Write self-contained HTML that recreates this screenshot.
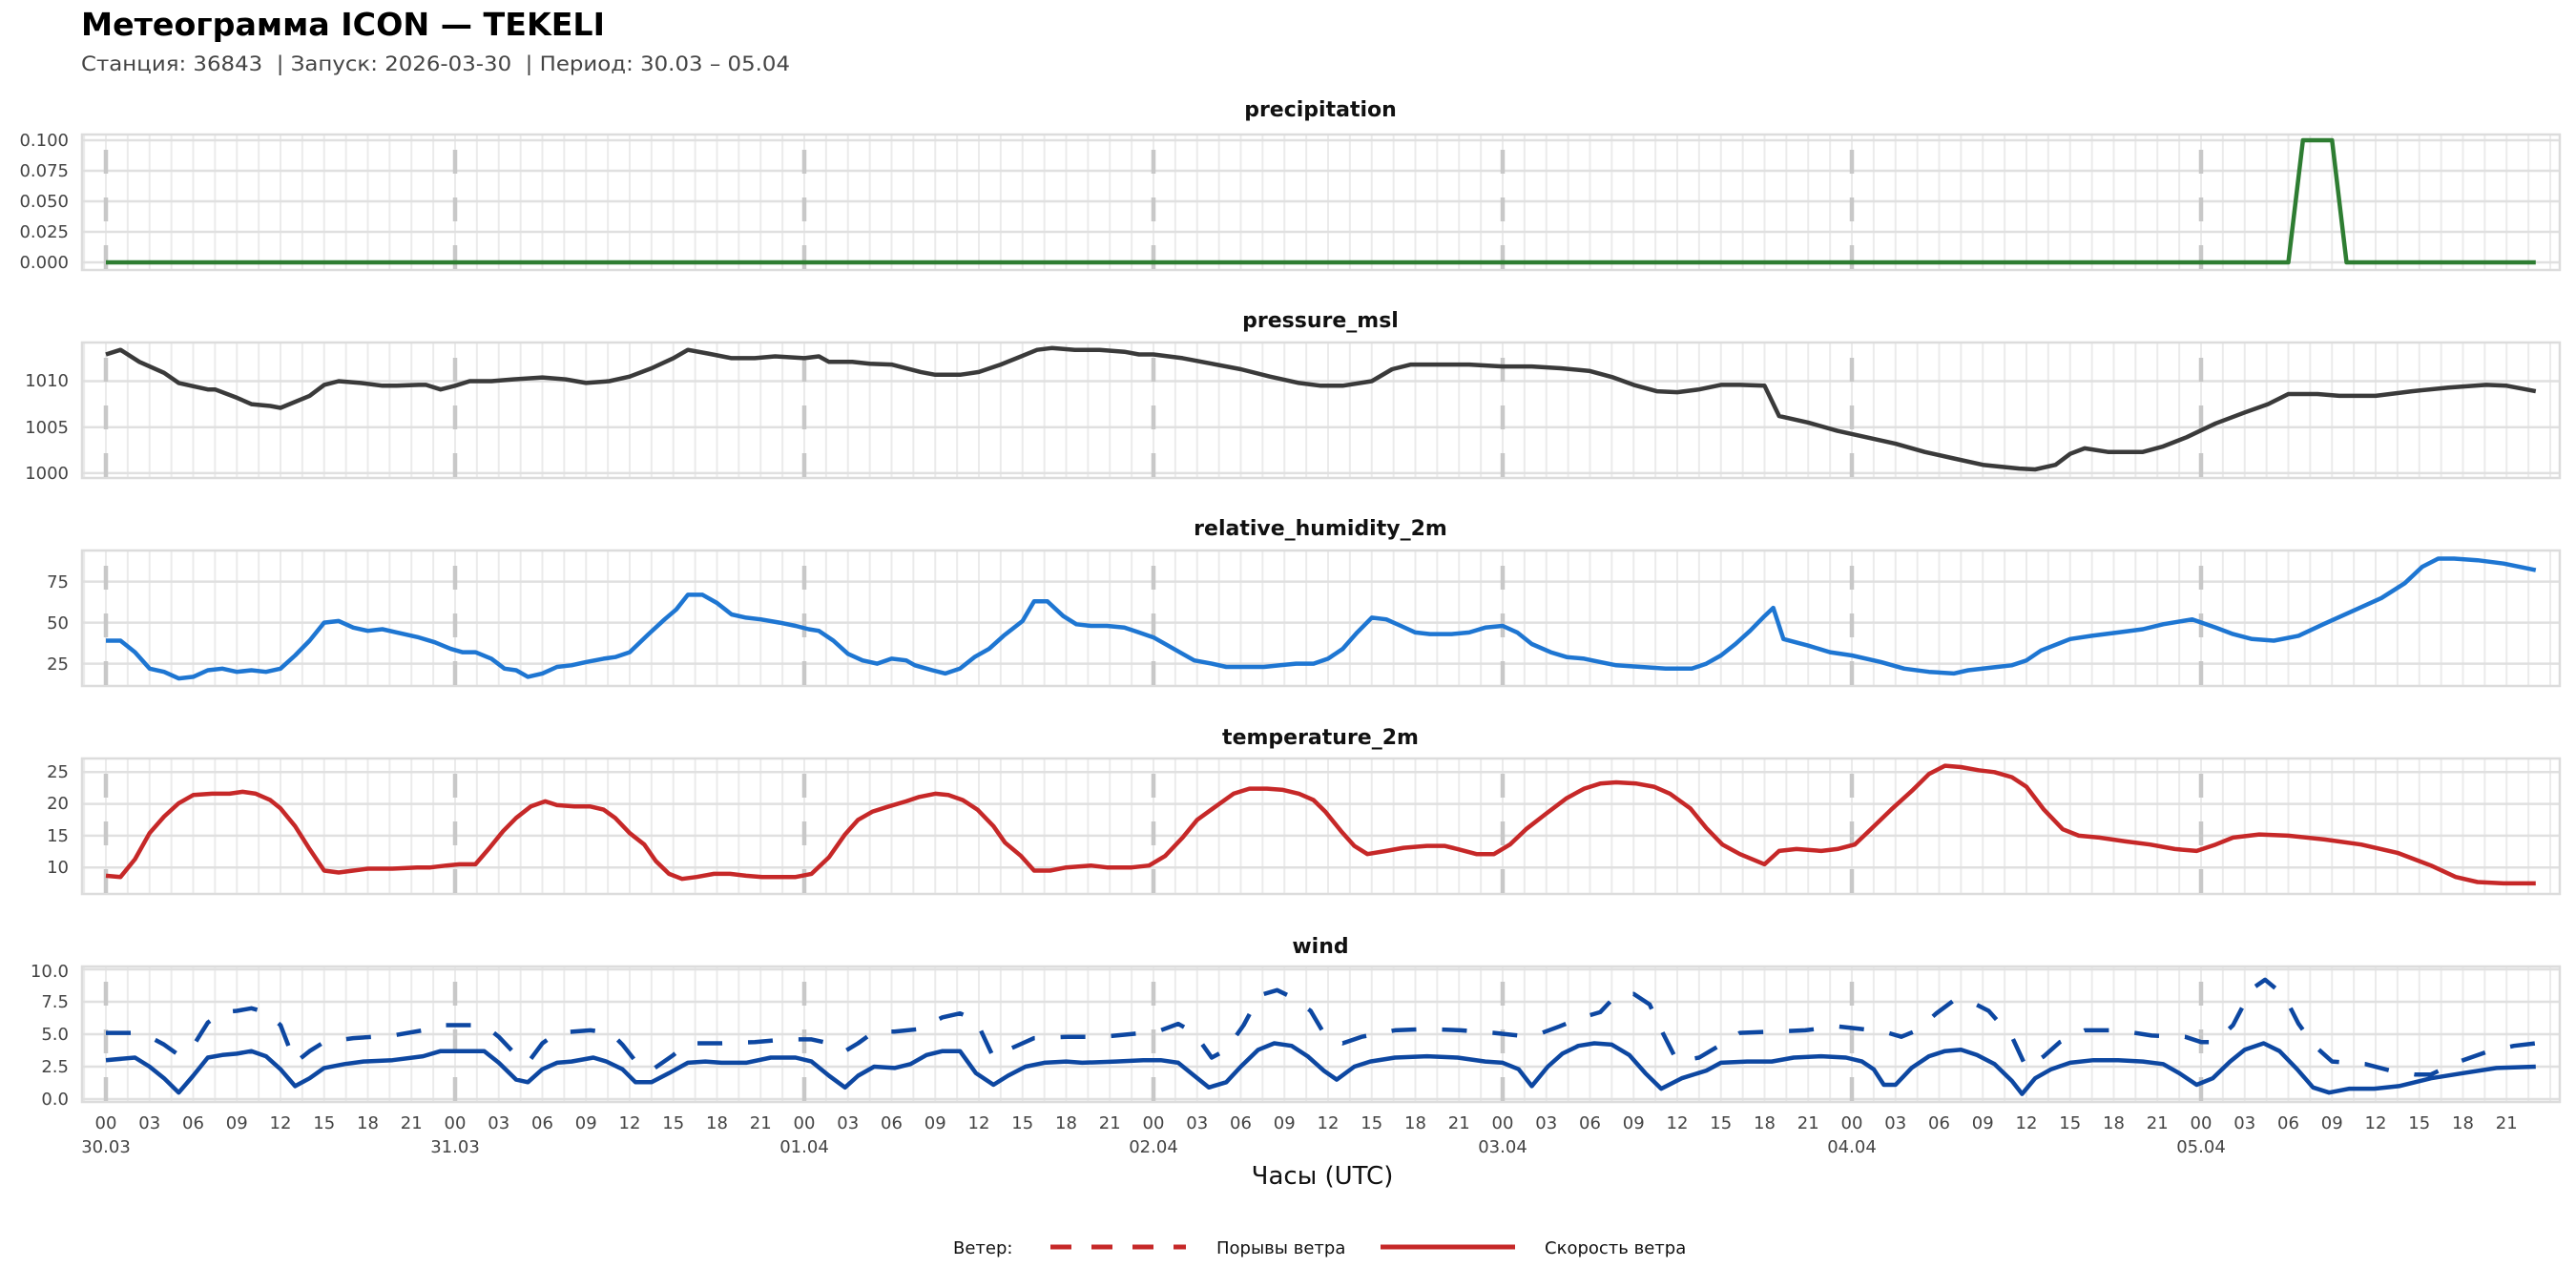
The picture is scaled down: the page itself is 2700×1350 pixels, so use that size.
<!DOCTYPE html>
<html><head><meta charset="utf-8"><style>
html,body{margin:0;padding:0;background:#fff}
svg{display:block;font-family:"DejaVu Sans","Liberation Sans",sans-serif}
</style></head><body>
<svg id="s" width="2700" height="1350" viewBox="0 0 2700 1350" xmlns="http://www.w3.org/2000/svg">
<rect width="2700" height="1350" fill="#fff"/>
<g id="grid"></g>
<g id="data"></g>
<text x="85" y="37" font-size="33" font-weight="bold" fill="#000" textLength="549" lengthAdjust="spacingAndGlyphs">Метеограмма ICON — TEKELI</text>
<text x="85" y="74" font-size="21" fill="#444" textLength="743" lengthAdjust="spacingAndGlyphs" style="white-space:pre" xml:space="preserve">Станция: 36843  | Запуск: 2026-03-30  | Период: 30.03 – 05.04</text>
<g font-size="22" font-weight="bold" text-anchor="middle" fill="#111">
<text x="1384" y="122">precipitation</text>
<text x="1384" y="343">pressure_msl</text>
<text x="1384" y="561">relative_humidity_2m</text>
<text x="1384" y="780">temperature_2m</text>
<text x="1384" y="999">wind</text>
</g>
<g font-size="18" fill="#444" text-anchor="end">
<text x="72" y="153">0.100</text><text x="72" y="185">0.075</text><text x="72" y="217">0.050</text><text x="72" y="249">0.025</text><text x="72" y="281">0.000</text>
<text x="72" y="405">1010</text><text x="72" y="454">1005</text><text x="72" y="502">1000</text>
<text x="72" y="616">75</text><text x="72" y="659">50</text><text x="72" y="702">25</text>
<text x="72" y="815">25</text><text x="72" y="848">20</text><text x="72" y="882">15</text><text x="72" y="915">10</text>
<text x="72" y="1024">10.0</text><text x="72" y="1056">7.5</text><text x="72" y="1090">5.0</text><text x="72" y="1124">2.5</text><text x="72" y="1158">0.0</text>
</g>
<g font-size="18" fill="#444" text-anchor="middle">
<g><text x="111" y="1183">00</text><text x="156.75" y="1183">03</text><text x="202.5" y="1183">06</text><text x="248.25" y="1183">09</text><text x="294" y="1183">12</text><text x="339.75" y="1183">15</text><text x="385.5" y="1183">18</text><text x="431.25" y="1183">21</text><text x="111" y="1208">30.03</text></g>
<g transform="translate(366,0)"><text x="111" y="1183">00</text><text x="156.75" y="1183">03</text><text x="202.5" y="1183">06</text><text x="248.25" y="1183">09</text><text x="294" y="1183">12</text><text x="339.75" y="1183">15</text><text x="385.5" y="1183">18</text><text x="431.25" y="1183">21</text><text x="111" y="1208">31.03</text></g>
<g transform="translate(732,0)"><text x="111" y="1183">00</text><text x="156.75" y="1183">03</text><text x="202.5" y="1183">06</text><text x="248.25" y="1183">09</text><text x="294" y="1183">12</text><text x="339.75" y="1183">15</text><text x="385.5" y="1183">18</text><text x="431.25" y="1183">21</text><text x="111" y="1208">01.04</text></g>
<g transform="translate(1098,0)"><text x="111" y="1183">00</text><text x="156.75" y="1183">03</text><text x="202.5" y="1183">06</text><text x="248.25" y="1183">09</text><text x="294" y="1183">12</text><text x="339.75" y="1183">15</text><text x="385.5" y="1183">18</text><text x="431.25" y="1183">21</text><text x="111" y="1208">02.04</text></g>
<g transform="translate(1464,0)"><text x="111" y="1183">00</text><text x="156.75" y="1183">03</text><text x="202.5" y="1183">06</text><text x="248.25" y="1183">09</text><text x="294" y="1183">12</text><text x="339.75" y="1183">15</text><text x="385.5" y="1183">18</text><text x="431.25" y="1183">21</text><text x="111" y="1208">03.04</text></g>
<g transform="translate(1830,0)"><text x="111" y="1183">00</text><text x="156.75" y="1183">03</text><text x="202.5" y="1183">06</text><text x="248.25" y="1183">09</text><text x="294" y="1183">12</text><text x="339.75" y="1183">15</text><text x="385.5" y="1183">18</text><text x="431.25" y="1183">21</text><text x="111" y="1208">04.04</text></g>
<g transform="translate(2196,0)"><text x="111" y="1183">00</text><text x="156.75" y="1183">03</text><text x="202.5" y="1183">06</text><text x="248.25" y="1183">09</text><text x="294" y="1183">12</text><text x="339.75" y="1183">15</text><text x="385.5" y="1183">18</text><text x="431.25" y="1183">21</text><text x="111" y="1208">05.04</text></g>
</g>
<text x="1386" y="1241" font-size="26" text-anchor="middle" fill="#111">Часы (UTC)</text>
<g font-size="18" fill="#111">
<text x="999" y="1314">Ветер:</text>
<line x1="1101" y1="1307" x2="1243" y2="1307" stroke="#c62828" stroke-width="5" stroke-dasharray="22 21"/>
<text x="1275" y="1314">Порывы ветра</text>
<line x1="1447" y1="1307" x2="1588" y2="1307" stroke="#c62828" stroke-width="5"/>
<text x="1619" y="1314">Скорость ветра</text>
</g>
</svg>
<script>
(function(){
var NS="http://www.w3.org/2000/svg";
function el(p,t,a){var e=document.createElementNS(NS,t);for(var k in a)e.setAttribute(k,a[k]);p.appendChild(e);return e;}
var G=document.getElementById('grid'),D=document.getElementById('data');
function X(h){return 111+h*15.25;}
var L=86,R=2683;
var panels=[
 {top:141,ticks:[0,0.025,0.05,0.075,0.1],f:function(v){return 275-v*1280;}},
 {top:359,ticks:[1000,1005,1010],f:function(v){return 399.5-(v-1010)*9.64;}},
 {top:577,ticks:[25,50,75],f:function(v){return 652.6-(v-50)*1.72;}},
 {top:795,ticks:[10,15,20,25],f:function(v){return 909.2-(v-10)*6.66;}},
 {top:1013,ticks:[0,2.5,5,7.5,10],f:function(v){return 1152-v*13.6;}}
];
panels.forEach(function(p){
 var t=p.top,b=t+142;
 for(var h=-1.5;X(h)<R;h+=1.5){var x=X(h);if(x>L)el(G,'line',{x1:x,y1:t,x2:x,y2:b,stroke:'#ebebeb','stroke-width':2});}
 p.ticks.forEach(function(v){var y=p.f(v);el(G,'line',{x1:L,y1:y,x2:R,y2:y,stroke:'#e0e0e0','stroke-width':2.5});});
 el(G,'rect',{x:L,y:t,width:R-L,height:b-t,fill:'none',stroke:'#dcdcdc','stroke-width':2.5});
 for(var d=0;d<7;d++){var x=X(d*24);el(G,'line',{x1:x,y1:t+16,x2:x,y2:b,stroke:'#c8c8c8','stroke-width':4.5,'stroke-dasharray':'25 25'});}
});
function draw(pi,pts,col,dash){
 var f=panels[pi].f,s='';
 pts.forEach(function(q,i){s+=(i?'L':'M')+X(q[0]).toFixed(1)+' '+f(q[1]).toFixed(1);});
 var a={d:s,fill:'none',stroke:col,'stroke-width':4.5,'stroke-linejoin':'round'};
 if(dash)a['stroke-dasharray']=dash;
 el(D,'path',a);
}
draw(0,[[0,0],[150,0],[151,0.1],[153,0.1],[154,0],[167,0]],'#2e7d32');
draw(1,[[0,1012.9],[1,1013.4],[2.3,1012.1],[4,1010.9],[5,1009.8],[7,1009.1],[7.5,1009.1],[9,1008.2],[10,1007.5],[11.3,1007.3],[12,1007.1],[14,1008.4],[15,1009.6],[16,1010],[17.5,1009.8],[19,1009.5],[20,1009.5],[21.5,1009.6],[22,1009.6],[23,1009.1],[24,1009.5],[25,1010],[26.5,1010],[28,1010.2],[30,1010.4],[31.6,1010.2],[33,1009.8],[34.6,1010],[36,1010.5],[37.5,1011.4],[39,1012.5],[40,1013.4],[41.4,1013],[43,1012.5],[44.6,1012.5],[46,1012.7],[48,1012.5],[49,1012.7],[49.7,1012.1],[51.3,1012.1],[52.5,1011.9],[54,1011.8],[56,1011],[57,1010.7],[58.7,1010.7],[60,1011],[61.5,1011.8],[62.6,1012.5],[64,1013.4],[65,1013.6],[66.6,1013.4],[68.3,1013.4],[70,1013.2],[71,1012.9],[72,1012.9],[74,1012.5],[76,1011.9],[78,1011.3],[80,1010.5],[82,1009.8],[83.5,1009.5],[85,1009.5],[87,1010],[88.4,1011.3],[89.7,1011.8],[91.4,1011.8],[93.7,1011.8],[96,1011.6],[98,1011.6],[100,1011.4],[102,1011.1],[103.6,1010.4],[105,1009.6],[106.6,1008.9],[108,1008.8],[109.5,1009.1],[111,1009.6],[112.3,1009.6],[114,1009.5],[115,1006.2],[117,1005.5],[119,1004.6],[121,1003.9],[123,1003.2],[125,1002.3],[127,1001.6],[129,1000.9],[131.5,1000.5],[132.6,1000.4],[134,1000.9],[135,1002.1],[136,1002.7],[137.6,1002.3],[140,1002.3],[141.4,1002.9],[143,1003.9],[145,1005.4],[147,1006.6],[148.6,1007.5],[150,1008.6],[152,1008.6],[153.5,1008.4],[156,1008.4],[158.5,1008.9],[161,1009.3],[163.6,1009.6],[165,1009.5],[167,1008.9]],'#3a3a3a');
draw(2,[[0,39],[1,39],[2,32],[3,22],[4,20],[5,16],[6,17],[7,21],[8,22],[9,20],[10,21],[11,20],[12,22],[13,30],[14,39],[15,50],[16,51],[17,47],[18,45],[19,46],[20,44],[21.5,41],[22.6,38],[23.7,34],[24.5,32],[25.4,32],[26.5,28],[27.4,22],[28.2,21],[29,17],[30,19],[31,23],[32,24],[33,26],[34.2,28],[35,29],[36,32],[37.3,43],[38.4,52],[39.2,58],[40,67],[41,67],[42,62],[43,55],[44,53],[45,52],[46.3,50],[47.4,48],[48.3,46],[49,45],[50,39],[51,31],[52,27],[53,25],[54,28],[55,27],[55.6,24],[56.8,21],[57.7,19],[58.7,22],[59.7,29],[60.7,34],[61.7,42],[63,51],[63.8,63],[64.7,63],[65.8,54],[66.7,49],[67.7,48],[68.8,48],[70,47],[71,44],[72,41],[73,36],[74,31],[74.8,27],[76,25],[77,23],[78.4,23],[79.6,23],[80.7,24],[81.8,25],[83,25],[84,28],[85,34],[86,44],[87,53],[88,52],[89,48],[90,44],[91,43],[92.5,43],[93.7,44],[94.8,47],[96,48],[97,44],[98,37],[99.3,32],[100.4,29],[101.6,28],[102.7,26],[103.8,24],[105.5,23],[107.2,22],[109,22],[110,25],[111,30],[112,37],[113,45],[114,54],[114.6,59],[115.3,40],[117,36],[118.5,32],[120,30],[122,26],[123.6,22],[125.3,20],[127,19],[128,21],[130,23],[131,24],[132,27],[133,33],[135,40],[136.5,42],[138.3,44],[140,46],[141.4,49],[143.4,52],[145,47],[146.2,43],[147.5,40],[149,39],[150.7,42],[152.4,49],[154.4,57],[156.4,65],[158,74],[159.2,84],[160.3,89],[161.4,89],[163,88],[164.8,86],[167,82]],'#1e76d2');
draw(3,[[0,8.7],[1,8.5],[2,11.3],[3,15.4],[4,18],[5,20.1],[6,21.4],[7.3,21.6],[8.5,21.6],[9.4,21.9],[10.3,21.6],[11.3,20.6],[12,19.3],[13,16.5],[14,12.9],[15,9.5],[16,9.2],[17,9.5],[18,9.8],[19.7,9.8],[21.4,10],[22.3,10],[23.4,10.3],[24.3,10.5],[25.4,10.5],[26.3,12.9],[27.3,15.7],[28.2,17.8],[29.2,19.6],[30.2,20.4],[31,19.8],[32.2,19.6],[33.3,19.6],[34.2,19.1],[35,17.8],[36,15.4],[37,13.6],[37.8,11],[38.7,9],[39.6,8.2],[40.6,8.5],[41.8,9],[42.9,9],[44,8.7],[45.1,8.5],[46.3,8.5],[47.4,8.5],[48.5,9],[49.7,11.6],[50.8,15.2],[51.7,17.5],[52.7,18.8],[53.8,19.6],[55,20.4],[55.9,21.1],[57,21.6],[57.9,21.4],[58.9,20.6],[59.9,19.1],[61,16.5],[61.8,13.9],[62.9,11.8],[63.8,9.5],[64.9,9.5],[66,10],[67.7,10.3],[68.8,10],[70.5,10],[71.7,10.3],[72.8,11.8],[74,14.7],[75,17.5],[76.4,19.8],[77.5,21.6],[78.6,22.4],[79.8,22.4],[80.9,22.2],[82,21.6],[83,20.6],[83.8,18.8],[84.9,15.7],[85.8,13.4],[86.7,12.1],[88,12.6],[89.2,13.1],[90.8,13.4],[92,13.4],[92.9,12.9],[94.2,12.1],[95.4,12.1],[96.5,13.6],[97.6,16],[99,18.5],[100.4,20.9],[101.6,22.4],[102.7,23.2],[103.8,23.4],[105.2,23.2],[106.4,22.7],[107.5,21.6],[108.9,19.3],[110,16.2],[111.1,13.6],[112.3,12.1],[114,10.5],[115,12.6],[116.2,12.9],[117.9,12.6],[119,12.9],[120.2,13.6],[121.3,16],[122.7,19.1],[124.2,22.2],[125.3,24.7],[126.4,26],[127.5,25.8],[128.7,25.3],[129.8,25],[131,24.2],[132,22.7],[133.2,19.1],[134.5,16],[135.6,15],[137,14.7],[138.8,14.1],[140.5,13.6],[142.2,12.9],[143.7,12.6],[145,13.6],[146.2,14.7],[148,15.2],[150,15],[152.5,14.4],[155,13.6],[157.5,12.3],[159.8,10.3],[161.5,8.5],[163,7.7],[164.8,7.5],[167,7.5]],'#c62828');
draw(4,[[0,5.1],[2,5.1],[3,4.8],[4,4.2],[5,3.4],[6,4.1],[7,5.9],[8,6.7],[9,6.8],[10,7],[11,6.7],[12,5.7],[13,2.8],[14,3.7],[15,4.4],[17,4.7],[19.7,4.9],[21.8,5.3],[23,5.7],[26,5.7],[27,4.8],[28.2,3.4],[29,2.8],[30,4.3],[31,5.1],[33.3,5.3],[34.7,5.1],[35.5,4.2],[36.7,2.5],[37.6,2.3],[39,3.4],[40,4.3],[42.3,4.3],[44.6,4.4],[46.8,4.6],[48.5,4.6],[49.7,4.3],[50.8,3.7],[51.7,4.3],[52.8,5.2],[54.2,5.2],[55.9,5.4],[57.5,6.3],[58.7,6.6],[59.8,6.1],[61,3.2],[62,3.8],[63.8,4.7],[66,4.8],[68.5,4.8],[71.3,5.1],[72.5,5.3],[73.7,5.8],[74.8,5.1],[76,3.2],[77,3.8],[78.2,5.7],[79.3,8],[80.5,8.4],[81.6,7.8],[82.8,6.8],[83.8,4.9],[85,4.3],[86.3,4.8],[88.6,5.3],[90.8,5.4],[93.1,5.3],[95.4,5.1],[97.1,4.9],[98.7,5.1],[99.9,5.6],[101.2,6.2],[102.7,6.7],[103.8,8],[105,8.1],[106.1,7.3],[107,5.1],[108,2.9],[109.5,3.2],[111,4.2],[112.3,5.1],[114.5,5.2],[116.8,5.3],[119,5.6],[120.7,5.4],[122.2,5.2],[123.4,4.8],[124.5,5.3],[125.8,6.6],[127,7.6],[128,7.6],[129.4,6.8],[131,4.8],[132,2.4],[133.2,3.3],[134.3,4.4],[136,5.3],[138.3,5.3],[140.6,4.9],[142.9,4.8],[144,4.4],[145,4.4],[146.2,5.7],[147.5,8.5],[148.4,9.2],[149.7,8],[150.7,5.8],[151.8,4.1],[153,2.9],[155.3,2.7],[157,2.2],[158.7,1.9],[159.8,1.9],[161.5,2.8],[163.8,3.7],[165.5,4.1],[167,4.3]],'#0d47a1','26 27');
draw(4,[[0,3],[2,3.2],[3,2.5],[4,1.6],[5,0.5],[6,1.8],[7,3.2],[8,3.4],[9,3.5],[10,3.7],[11,3.3],[12,2.3],[13,1],[14,1.6],[15,2.4],[16.4,2.7],[17.7,2.9],[19.7,3],[21.8,3.3],[23,3.7],[24.8,3.7],[26,3.7],[27,2.8],[28.2,1.5],[29,1.3],[30,2.3],[31,2.8],[32,2.9],[33.5,3.2],[34.4,2.9],[35.5,2.3],[36.4,1.3],[37.5,1.3],[38.7,2],[40,2.8],[41.2,2.9],[42.3,2.8],[44,2.8],[45.7,3.2],[47.4,3.2],[48.5,2.9],[49.7,1.8],[50.8,0.9],[51.7,1.8],[52.8,2.5],[54.2,2.4],[55.3,2.7],[56.4,3.4],[57.5,3.7],[58.7,3.7],[59.8,2],[61,1.1],[62,1.8],[63.2,2.5],[64.5,2.8],[66,2.9],[67.1,2.8],[69.4,2.9],[71.3,3],[72.5,3],[73.7,2.8],[74.7,1.9],[75.8,0.9],[77,1.3],[78,2.5],[79.2,3.8],[80.3,4.3],[81.5,4.1],[82.6,3.3],[83.7,2.2],[84.6,1.5],[85.8,2.5],[86.9,2.9],[88.6,3.2],[90.8,3.3],[92.9,3.2],[94.8,2.9],[96,2.8],[97.1,2.3],[98,1],[99.1,2.5],[100.1,3.5],[101.2,4.1],[102.3,4.3],[103.5,4.2],[104.7,3.4],[105.8,2],[106.9,0.8],[108.3,1.6],[110,2.2],[111,2.8],[112.8,2.9],[114.5,2.9],[116,3.2],[117.9,3.3],[119.6,3.2],[120.7,2.9],[121.5,2.3],[122.2,1.1],[123,1.1],[124.1,2.4],[125.3,3.3],[126.4,3.7],[127.5,3.8],[128.6,3.4],[129.8,2.7],[131,1.4],[131.7,0.4],[132.6,1.6],[133.7,2.3],[135,2.8],[136.6,3],[138.3,3],[140,2.9],[141.4,2.7],[142.5,2],[143.7,1.1],[144.8,1.6],[146,2.9],[147,3.8],[148.3,4.3],[149.4,3.7],[150.6,2.3],[151.7,0.9],[152.8,0.5],[154.2,0.8],[155.9,0.8],[157.6,1],[159.8,1.6],[162,2],[164.3,2.4],[167,2.5]],'#0d47a1');
})();
</script>
</body></html>
